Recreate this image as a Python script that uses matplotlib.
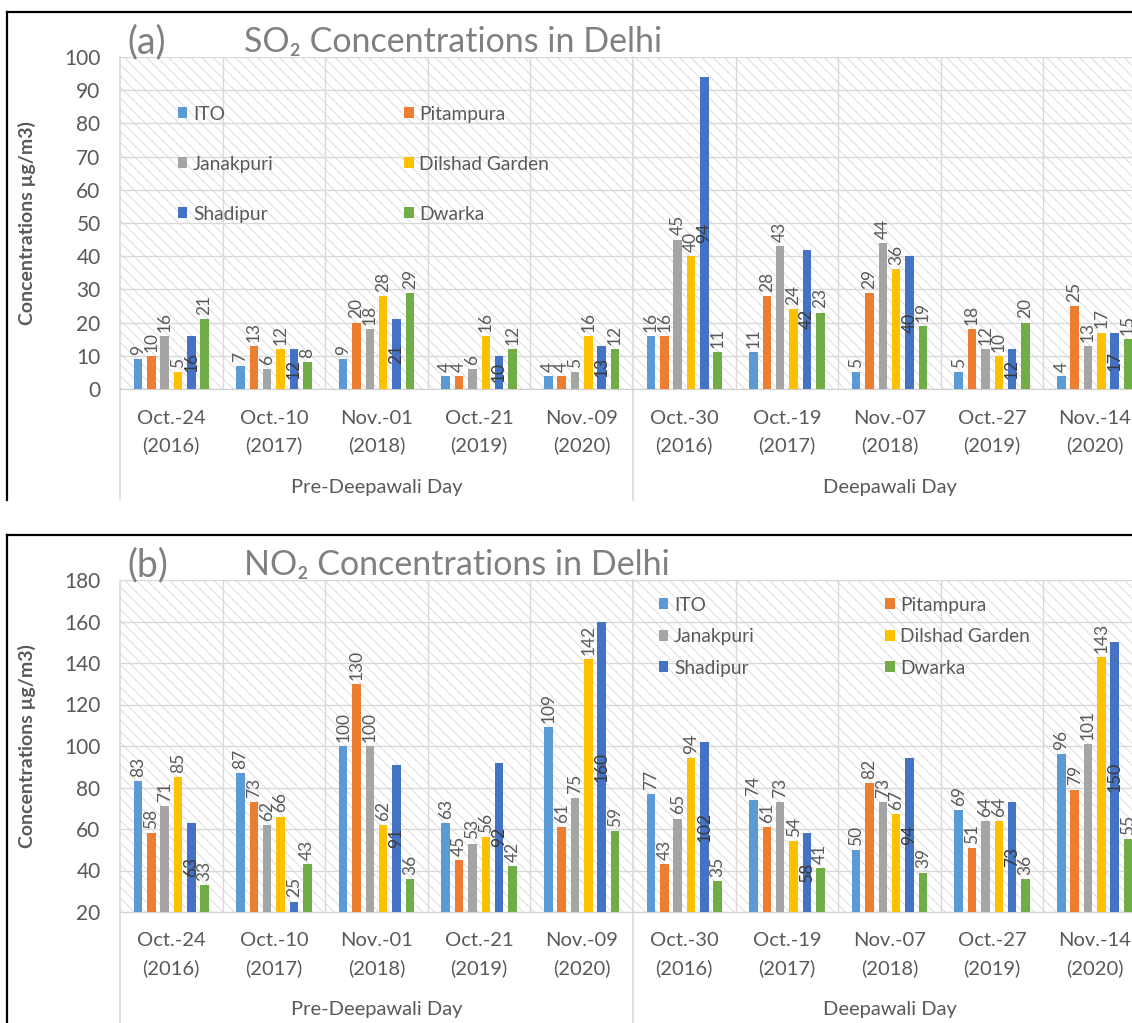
import matplotlib
matplotlib.use("Agg")
import matplotlib.pyplot as plt
from matplotlib.patches import Rectangle, Patch
from matplotlib.lines import Line2D
import numpy as np

plt.rcParams['font.family'] = ['Lato', 'DejaVu Sans']
plt.rcParams['hatch.linewidth'] = 0.55

# ---------------------------------------------------------------- data
dates = ['Oct.-24', 'Oct.-10', 'Nov.-01', 'Oct.-21', 'Nov.-09',
         'Oct.-30', 'Oct.-19', 'Nov.-07', 'Oct.-27', 'Nov.-14']
years = ['(2016)', '(2017)', '(2018)', '(2019)', '(2020)',
         '(2016)', '(2017)', '(2018)', '(2019)', '(2020)']
periods = ['Pre-Deepawali Day', 'Deepawali Day']
stations = ['ITO', 'Pitampura', 'Janakpuri', 'Dilshad Garden', 'Shadipur', 'Dwarka']
colors = ['#5B9BD5', '#ED7D31', '#A5A5A5', '#FFC000', '#4472C4', '#70AD47']

so2_ito       = [9, 7, 9, 4, 4, 16, 11, 5, 5, 4]
so2_pitampura = [10, 13, 20, 4, 4, 16, 28, 29, 18, 25]
so2_janakpuri = [16, 6, 18, 6, 5, 45, 43, 44, 12, 13]
so2_dilshad   = [5, 12, 28, 16, 16, 40, 24, 36, 10, 17]
so2_shadipur  = [16, 12, 21, 10, 13, 94, 42, 40, 12, 17]
so2_dwarka    = [21, 8, 29, 12, 12, 11, 23, 19, 20, 15]

no2_ito       = [83, 87, 100, 63, 109, 77, 74, 50, 69, 96]
no2_pitampura = [58, 73, 130, 45, 61, 43, 61, 82, 51, 79]
no2_janakpuri = [71, 62, 100, 53, 75, 65, 73, 73, 64, 101]
no2_dilshad   = [85, 66, 62, 56, 142, 94, 54, 67, 64, 143]
no2_shadipur  = [63, 25, 91, 92, 160, 102, 58, 94, 73, 150]
no2_dwarka    = [33, 43, 36, 42, 59, 35, 41, 39, 36, 55]

so2_series = [so2_ito, so2_pitampura, so2_janakpuri, so2_dilshad, so2_shadipur, so2_dwarka]
no2_series = [no2_ito, no2_pitampura, no2_janakpuri, no2_dilshad, no2_shadipur, no2_dwarka]

# ---------------------------------------------------------------- layout
W, H = 1132, 1023
fig = plt.figure(figsize=(W / 100, H / 100), dpi=100)

TXT = '#595959'
GRID = '#d9d9d9'


def fig_box(left, top, right, bottom):
    return [left / W, 1 - bottom / H, (right - left) / W, (bottom - top) / H]


def draw_panel(off, series, ylo, yhi, ystep, tag, title, leg_xy, leg_spacing):
    # outer frame (top and left edges)
    fig.add_artist(Line2D([7 / W, 1.0], [1 - (12 + off) / H] * 2, color='black', lw=1.6))
    fig.add_artist(Line2D([7 / W, 7 / W], [1 - (12 + off) / H, 1 - (500 + off) / H],
                          color='black', lw=1.6))

    top, bottom = 57 + off, 389 + off
    ax = fig.add_axes(fig_box(120, top, 1146, bottom))
    plot_h = bottom - top
    ax.set_xlim(-0.5, 9.5)
    ax.set_ylim(ylo, yhi)
    ax.set_facecolor('white')

    # hatched plot-area fill
    ax.add_patch(Rectangle((0, 0), 1, 1, transform=ax.transAxes, facecolor='white',
                           edgecolor='#d4d4d4', hatch='\\\\\\', lw=0, zorder=0))

    ax.set_yticks(np.arange(ylo, yhi + 0.1, ystep))
    ax.yaxis.grid(True, color=GRID, lw=1)
    ax.set_axisbelow(True)
    ax.set_xticks([])
    ax.tick_params(axis='y', length=0, pad=14, labelsize=15, labelcolor=TXT)
    for name in ['top', 'right', 'left']:
        ax.spines[name].set_visible(False)
    ax.spines['bottom'].set_color('#cfcfcf')

    # group separators
    for xb in np.arange(0.5, 9.0, 1.0):
        if abs(xb - 4.5) > 1e-6:
            ax.axvline(xb, color=GRID, lw=1, zorder=1)
    drop = -(500 + off - bottom) / plot_h
    for xb in (-0.5, 4.5):
        ax.add_artist(Line2D([xb, xb], [1, drop], transform=ax.get_xaxis_transform(),
                             color=GRID, lw=1.2, clip_on=False, zorder=1))

    # bars and value labels
    x = np.arange(len(dates))
    pitch, width = 0.13, 0.083
    span = yhi - ylo
    for i, (vals, c) in enumerate(zip(series, colors)):
        xs = x + (i - 2.5) * pitch
        ax.bar(xs, vals, width=width, color=c, zorder=3)
        for xv, v in zip(xs, vals):
            if stations[i] == 'Shadipur' and (v - ylo) / span > 0.065:
                ax.text(xv, (v + ylo) / 2, str(v), rotation=90, ha='center', va='center',
                        fontsize=12.5, color='#3a3a3a', zorder=4)
            else:
                ax.annotate(str(v), (xv, v), xytext=(0, 3), textcoords='offset points',
                            rotation=90, ha='center', va='bottom', fontsize=12.5,
                            color=TXT, zorder=4)

    # two-level category axis
    xt = ax.get_xaxis_transform()
    for xi, (d, y) in enumerate(zip(dates, years)):
        ax.text(xi, -29 / plot_h, d, transform=xt, ha='center', va='center',
                fontsize=14.5, color=TXT)
        ax.text(xi, -56 / plot_h, y, transform=xt, ha='center', va='center',
                fontsize=14.5, color=TXT)
    for cx, p in zip((2, 7), periods):
        ax.text(cx, -98 / plot_h, p, transform=xt, ha='center', va='center',
                fontsize=14.5, color=TXT)

    # axis title
    fig.text(27 / W, 1 - (top + bottom) / 2 / H, 'Concentrations µg/m3)', rotation=90,
             ha='center', va='center', fontsize=14, fontweight='bold', color=TXT)

    # chart title
    fig.text(127 / W, 1 - (42 + off) / H, tag, ha='left', va='center', fontsize=27,
             color='#808080')
    fig.text(244 / W, 1 - (42 + off) / H, title, ha='left', va='center', fontsize=24.5,
             color='#808080')

    # legend (row-wise reading order in two columns)
    order = [0, 2, 4, 1, 3, 5]
    handles = [Patch(facecolor=colors[k], edgecolor='none') for k in order]
    labels = [stations[k] for k in order]
    ax.legend(handles, labels, ncol=2, loc='upper left',
              bbox_to_anchor=(leg_xy[0] / W, 1 - (leg_xy[1] + off) / H),
              bbox_transform=fig.transFigure, frameon=False, borderpad=0,
              fontsize=13.8, labelcolor=TXT, handlelength=0.5, handleheight=0.5,
              handletextpad=0.3, columnspacing=6.8, labelspacing=leg_spacing)
    return ax


draw_panel(0, so2_series, 0, 100, 10, '(a)', 'SO\u2082 Concentrations in Delhi',
           (168, 96), 1.72)
draw_panel(523, no2_series, 20, 180, 20, '(b)', 'NO\u2082 Concentrations in Delhi',
           (649, 64), 0.76)

fig.savefig('out.png', dpi=100, facecolor='white')
